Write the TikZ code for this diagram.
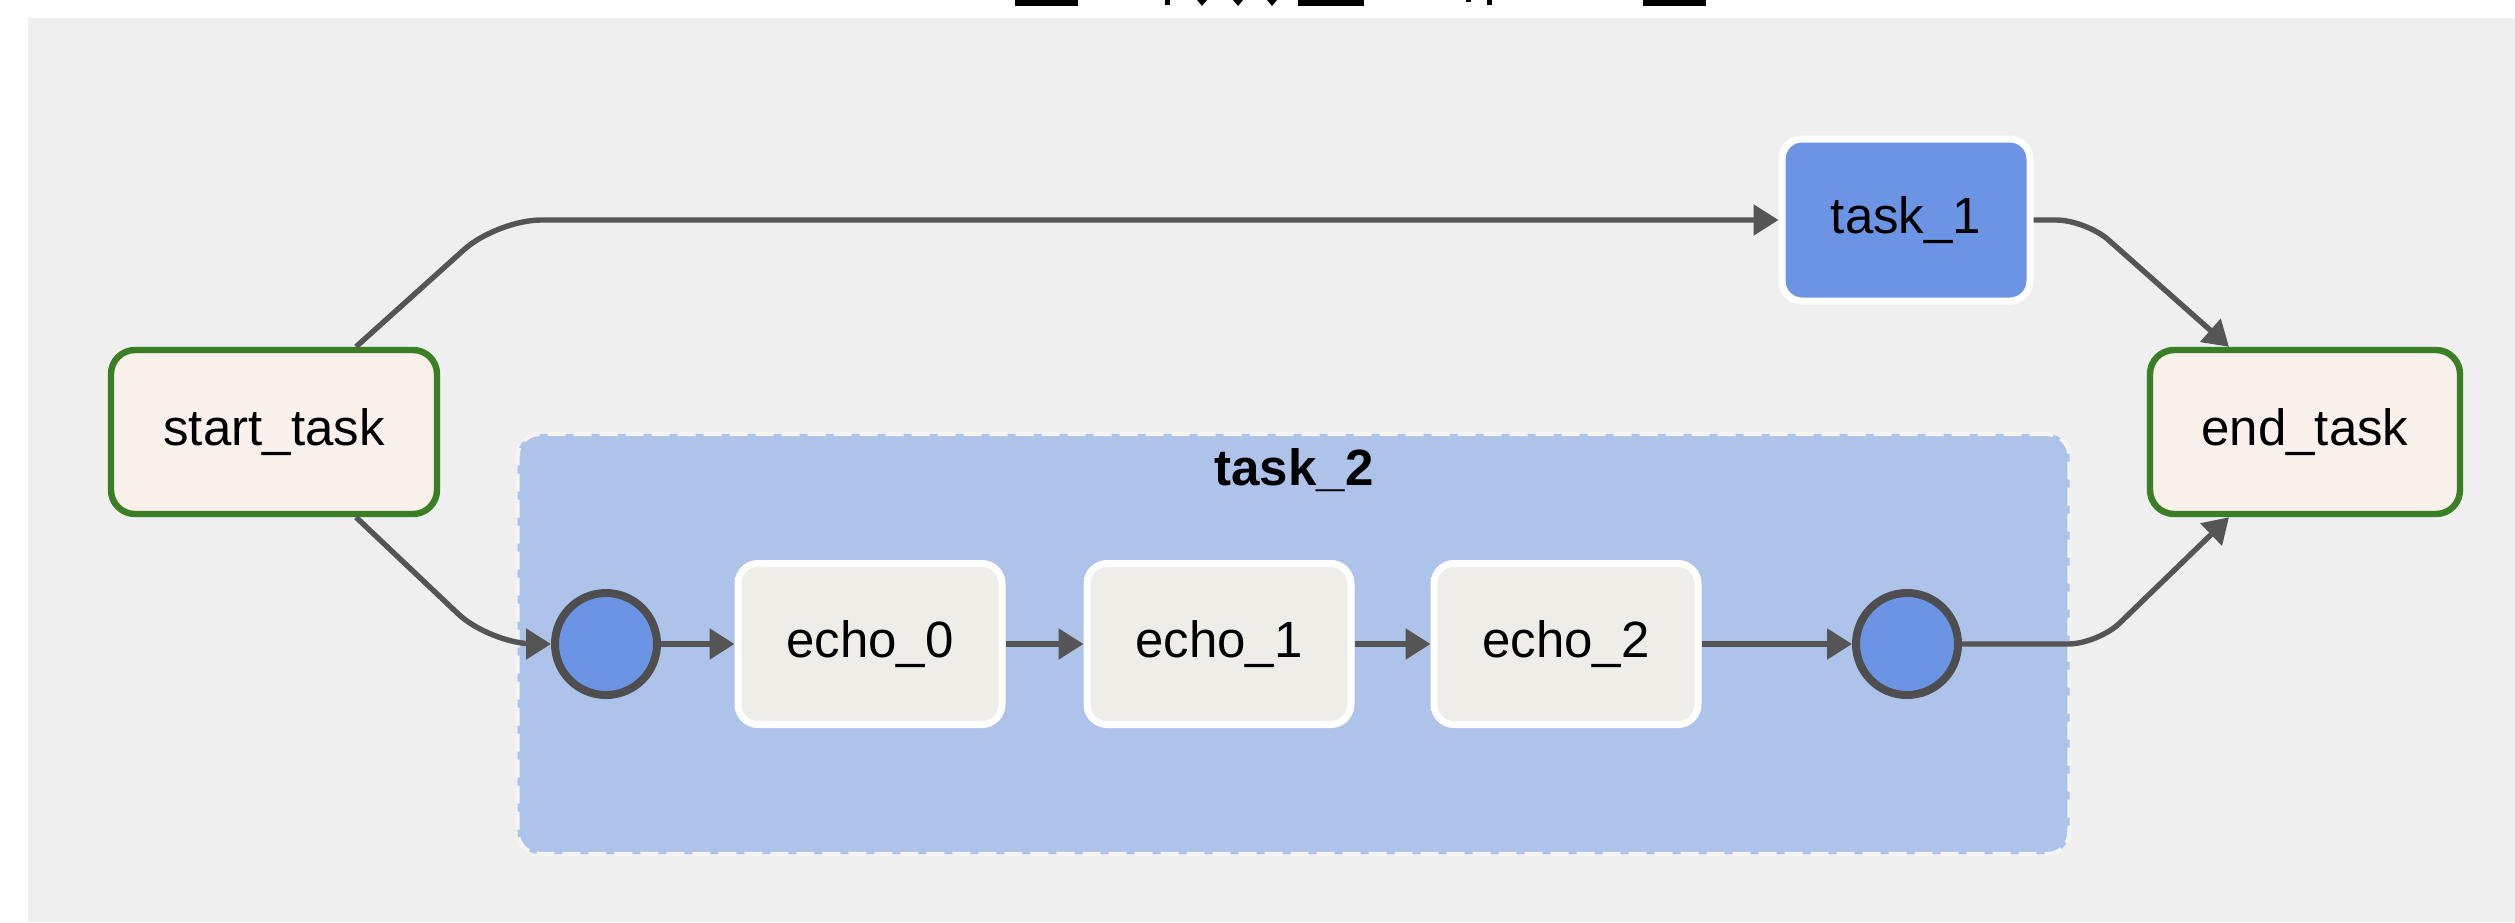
\documentclass[tikz,border=0pt]{standalone}
\usepackage{fontspec}
\setmainfont{Liberation Sans}
\usetikzlibrary{arrows.meta}

\definecolor{canvas}{HTML}{EFEFEF}
\definecolor{groupfill}{HTML}{AEC3EA}
\definecolor{groupedge}{HTML}{F4F4F4}
\definecolor{runblue}{HTML}{6B95E4}
\definecolor{echofill}{HTML}{EFEDE7}
\definecolor{endfill}{HTML}{FAF0EC}
\definecolor{endedge}{HTML}{3A7F24}
\definecolor{wire}{HTML}{555555}
\definecolor{ringedge}{HTML}{4E4E4E}

\begin{document}
\begin{tikzpicture}[x=0.5pt,y=-0.5pt,
  labelfont/.style={font=\fontsize{25.5}{30}\selectfont},
  endpoint/.style={labelfont, draw=endedge, line width=3.2pt, fill=endfill,
    rounded corners=12pt, inner sep=0pt, minimum height=82pt},
  opbox/.style={labelfont, draw=white, line width=3.5pt, rounded corners=10pt,
    inner sep=0pt, minimum width=132pt, minimum height=80.5pt},
  joint/.style={circle, draw=ringedge, line width=4pt, fill=runblue,
    inner sep=0pt, minimum size=51pt},
  groupbox/.style={draw=groupedge, line width=2.2pt, dash pattern=on 9pt off 4pt,
    fill=groupfill, rounded corners=11pt, inner sep=0pt,
    minimum width=776pt, minimum height=210pt},
  wirearrow/.style={draw=wire, line width=2.7pt,
    -{Triangle[length=12.5pt,width=15pt]}},
]
% page and canvas
\useasboundingbox (0,0) rectangle (2515,922);
\fill[white] (0,0) rectangle (2515,922);
\fill[canvas] (28,18) rectangle (2515,922);

% clipped remains of the heading along the top edge
\fill[black] (1015,0) rectangle (1078,6);
\fill[black] (1165,0) rectangle (1170,5);
\foreach \tx in {1202,1238,1272} {
  \fill[black] (\tx-5,0) -- (\tx+5,0) -- (\tx,6) -- cycle;
}
\fill[black] (1298,0) rectangle (1364,6);
\fill[black] (1466,0) rectangle (1471,2);
\fill[black] (1487,0) rectangle (1492,5);
\fill[black] (1643,0) rectangle (1706,6);

% task group
\node[groupbox] (grp) at (1293.5,644) {};
\node[labelfont, font=\fontsize{25.5}{30}\selectfont\bfseries] (grplabel) at (1294,470) {task\_2};

% nodes
\node[endpoint, minimum width=163pt] (start) at (274,432) {start\_task};
\node[endpoint, minimum width=155pt] (finish) at (2305,432) {end\_task};
\node[opbox, fill=runblue, minimum width=124pt, minimum height=81pt] (t1) at (1906,220) {task\_1};

\node[joint] (c1) at (606,644) {};
\node[opbox, fill=echofill] (e0) at (870,644) {echo\_0};
\node[opbox, fill=echofill] (e1) at (1219,644) {echo\_1};
\node[opbox, fill=echofill] (e2) at (1566,644) {echo\_2};
\node[joint] (c2) at (1907,644) {};

% bend points of the routed connectors
\coordinate (bendA) at (497,220);
\coordinate (bendB) at (490,644);
\coordinate (bendC) at (2086,220);
\coordinate (bendD) at (2098,644);

% connectors
\draw[wirearrow, rounded corners=22pt] ([xshift=41pt]start.north) -- (bendA) -- (t1.west);
\draw[wirearrow, rounded corners=22pt] ([xshift=41pt]start.south) -- (bendB) -- (c1.west);
\draw[wirearrow, rounded corners=15pt] (t1.east) -- (bendC) -- ([xshift=-38pt]finish.north);
\draw[wirearrow, rounded corners=15pt] (c2.east) -- (bendD) -- ([xshift=-38pt]finish.south);
\draw[wirearrow] (c1) -- (e0);
\draw[wirearrow] (e0) -- (e1);
\draw[wirearrow] (e1) -- (e2);
\draw[wirearrow] (e2) -- (c2);
\end{tikzpicture}
\end{document}
